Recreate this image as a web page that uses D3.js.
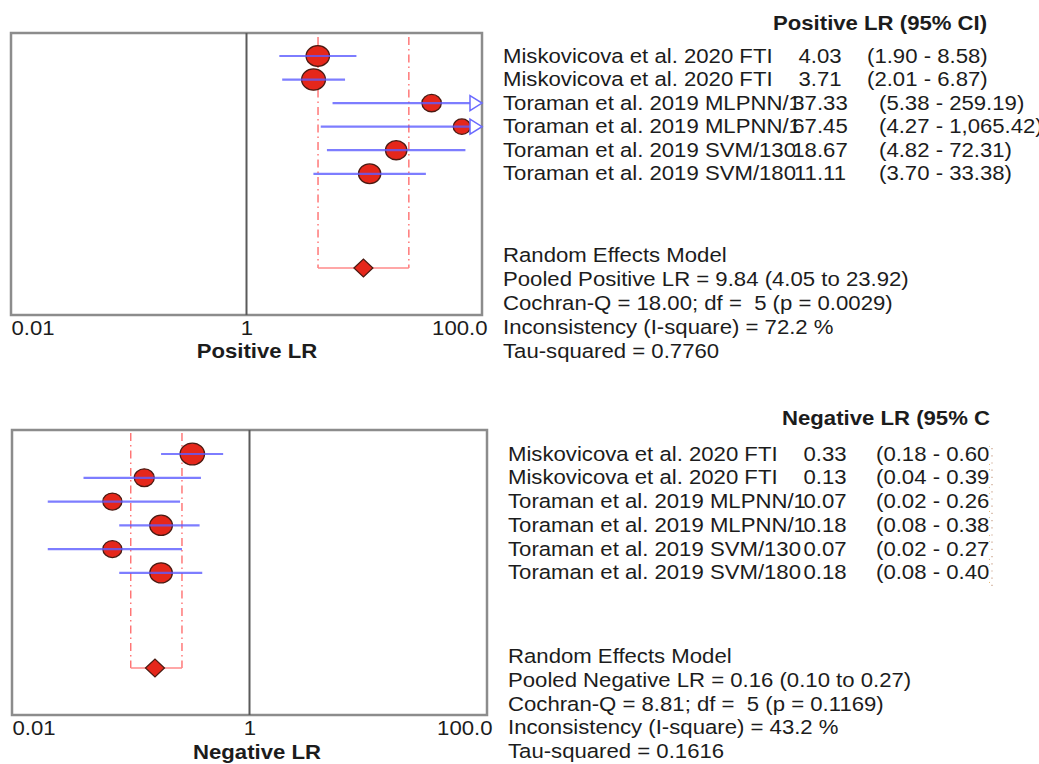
<!DOCTYPE html>
<html>
<head>
<meta charset="utf-8">
<script src="https://cdn.jsdelivr.net/npm/d3@7"></script>
<style>
  body { margin: 0; background: #fff; }
  svg { display: block; }
  text { font-family: "Liberation Sans", Arial, sans-serif; fill: #1c1c1c; white-space: pre; }
</style>
</head>
<body>
<svg id="chart" width="1039" height="764"></svg>
<script>
// study labels (same for both panels)
const studies = [
  "Miskovicova et al. 2020 FTI",
  "Miskovicova et al. 2020 FTI",
  "Toraman et al. 2019 MLPNN/130",
  "Toraman et al. 2019 MLPNN/180",
  "Toraman et al. 2019 SVM/130",
  "Toraman et al. 2019 SVM/180"
];

// positive likelihood ratio
const posLR = [4.03, 3.71, 37.33, 67.45, 18.67, 11.11];
const posLo = [1.90, 2.01, 5.38, 4.27, 4.82, 3.70];
const posHi = [8.58, 6.87, 259.19, 1065.42, 72.31, 33.38];
const posWeight = [22.2, 23.5, 11.7, 7.4, 16.4, 18.8];
const posPooled = [9.84, 4.05, 23.92];
const posStats = { q: "18.00", df: 5, p: "0.0029", i2: "72.2", tau2: "0.7760" };

// negative likelihood ratio
const negLR = [0.33, 0.13, 0.07, 0.18, 0.07, 0.18];
const negLo = [0.18, 0.04, 0.02, 0.08, 0.02, 0.08];
const negHi = [0.60, 0.39, 0.26, 0.38, 0.27, 0.40];
const negWeight = [25.3, 13.0, 11.0, 20.3, 10.8, 19.6];
const negPooled = [0.16, 0.10, 0.27];
const negStats = { q: "8.81", df: 5, p: "0.1169", i2: "43.2", tau2: "0.1616" };

// x axis
const tickValues = [0.01, 1, 100];
const tickLabels = ["0.01", "1", "100.0"];

const SX = 1.125;   // the picture is a bit wider than tall
const FS = 19.7;

const svg = d3.select("#chart");
const fmt2 = d3.format(".2f");
const fmtCI = d3.format(",.2f");
const rScale = d3.scaleSqrt().domain([0, 25]).range([4, 10.8]);

let clipId = 0;

function label(g, x, y, str, anchor, bold) {
  return g.append("text")
    .attr("transform", "translate(" + x + "," + y + ") scale(" + SX + ",1)")
    .attr("text-anchor", anchor || "start")
    .style("font-size", FS + "px")
    .style("font-weight", bold ? "bold" : "normal")
    .text(str);
}

function clip(x0, x1, y0, y1) {
  const id = "clip" + (clipId++);
  svg.append("clipPath").attr("id", id)
    .append("rect").attr("x", x0).attr("y", y0).attr("width", x1 - x0).attr("height", y1 - y0);
  return "url(#" + id + ")";
}

function drawPanel(c, est, lo, hi, weight, pooled, stats, axisTitle, header, pooledName) {
  const g = svg.append("g");

  const x = d3.scaleLog().domain([0.01, 100]).range([c.x0, c.x1]);
  const y = d3.scaleLinear().domain([0, 9]).range([c.rowTop, c.rowPooled]);
  const rows = d3.range(est.length);

  // frame
  g.append("rect")
    .attr("x", c.x0).attr("y", c.y0)
    .attr("width", c.x1 - c.x0).attr("height", c.y1 - c.y0)
    .attr("fill", "none").attr("stroke", "#8c8c8c").attr("stroke-width", 2.5);

  g.append("line")
    .attr("x1", x(1)).attr("x2", x(1)).attr("y1", c.y0).attr("y2", c.y1)
    .attr("stroke", "#5a5a5a").attr("stroke-width", 2);

  // pooled estimate interval
  g.selectAll(".pooled-v")
    .data([pooled[1], pooled[2]])
    .enter().append("line")
    .attr("x1", d => x(d)).attr("x2", d => x(d))
    .attr("y1", c.dashTop).attr("y2", y(9))
    .attr("stroke", "#ff6f6f").attr("stroke-width", 1.4)
    .attr("stroke-dasharray", "8,4,1.5,4");

  g.append("line")
    .attr("x1", x(pooled[1])).attr("x2", x(pooled[2]))
    .attr("y1", y(9)).attr("y2", y(9))
    .attr("stroke", "#ff8a8a").attr("stroke-width", 1.5);

  // study points
  g.selectAll(".pt")
    .data(rows)
    .enter().append("ellipse")
    .attr("cx", i => x(est[i]))
    .attr("cy", i => y(i))
    .attr("rx", i => rScale(weight[i]) * SX)
    .attr("ry", i => rScale(weight[i]))
    .attr("fill", "#e5271b").attr("stroke", "#4a1a12").attr("stroke-width", 1.3);

  // confidence intervals
  const arrowW = 12;
  g.selectAll(".ci")
    .data(rows)
    .enter().append("line")
    .attr("x1", i => x(Math.max(lo[i], 0.01)))
    .attr("x2", i => hi[i] > 100 ? c.x1 - arrowW : x(hi[i]))
    .attr("y1", i => y(i)).attr("y2", i => y(i))
    .attr("stroke", "#5c5cff").attr("stroke-opacity", 0.8).attr("stroke-width", 2.2);

  g.selectAll(".arrow")
    .data(rows.filter(i => hi[i] > 100))
    .enter().append("path")
    .attr("d", i => {
      const yy = y(i);
      return "M" + (c.x1 - arrowW) + "," + (yy - 7.5) + "L" + c.x1 + "," + yy +
        "L" + (c.x1 - arrowW) + "," + (yy + 7.5) + "Z";
    })
    .attr("fill", "#fff").attr("stroke", "#6a6aff").attr("stroke-width", 1.5);

  // pooled diamond
  const px = x(pooled[0]), py = y(9), dw = 9.5, dh = 9;
  g.append("path")
    .attr("d", "M" + (px - dw) + "," + py + "L" + px + "," + (py - dh) +
      "L" + (px + dw) + "," + py + "L" + px + "," + (py + dh) + "Z")
    .attr("fill", "#e5271b").attr("stroke", "#4a1a12").attr("stroke-width", 1.2);

  // x axis
  const axis = g.append("g")
    .attr("transform", "translate(0," + c.y1 + ")")
    .call(d3.axisBottom(x).tickValues(tickValues)
      .tickFormat((d, i) => tickLabels[i]).tickSize(0));
  axis.select(".domain").remove();
  axis.selectAll("text")
    .attr("y", c.tickY - c.y1).attr("dy", 0)
    .attr("transform", "scale(" + SX + ",1)")
    .attr("text-anchor", (d, i) => ["start", "middle", "end"][i])
    .attr("x", (d, i) => i === 2 ? 5 / SX : 0)
    .style("font-size", FS + "px")
    .style("font-family", "Liberation Sans, Arial, sans-serif")
    .attr("fill", "#222");

  label(g, c.titleX, c.titleY, axisTitle, "middle", true);

  // right hand table
  const rightClip = clip(0, c.tableClip, c.y0 - 40, c.y1 + 60);
  const table = g.append("g").attr("clip-path", rightClip);
  label(table, c.headerX, c.headerY, header, "start", true);

  const names = table.append("g").attr("clip-path", clip(0, c.nameClip, c.y0 - 40, c.y1));
  rows.forEach(i => {
    const by = y(i) + 6.5;
    label(names, c.nameX, by, studies[i]);
    label(table, c.valX, by, fmt2(est[i]), "middle");
    const shift = hi[i] >= 10 ? c.ciShift : 0;
    label(table, c.ciX + shift, by, "(" + fmt2(lo[i]) + " - " + fmtCI(hi[i]) + ")");
  });

  const statLines = [
    "Random Effects Model",
    "Pooled " + pooledName + " = " + fmt2(pooled[0]) + " (" + fmt2(pooled[1]) + " to " + fmt2(pooled[2]) + ")",
    "Cochran-Q = " + stats.q + "; df =  " + stats.df + " (p = " + stats.p + ")",
    "Inconsistency (I-square) = " + stats.i2 + " %",
    "Tau-squared = " + stats.tau2
  ];
  statLines.forEach((s, k) => label(g, c.nameX, c.statY + k * c.statStep, s));

  if (c.tableClip < 1039) {
    g.append("line")
      .attr("x1", c.tableClip + 2).attr("x2", c.tableClip + 2)
      .attr("y1", y(0) - 6).attr("y2", y(5) + 14)
      .attr("stroke", "#c9a088").attr("stroke-width", 1.2)
      .attr("stroke-dasharray", "1.2,6");
  }
}

drawPanel({
  x0: 11, x1: 482, y0: 33, y1: 315,
  rowTop: 56, rowPooled: 268, dashTop: 37,
  tickY: 335, titleX: 257, titleY: 358,
  headerX: 773, headerY: 30,
  nameX: 503, nameClip: 800, valX: 820, ciX: 867, ciShift: 12, tableClip: 1039,
  statY: 262, statStep: 24
}, posLR, posLo, posHi, posWeight, posPooled, posStats,
  "Positive LR", "Positive LR (95% CI)", "Positive LR");

drawPanel({
  x0: 12, x1: 487, y0: 430, y1: 715,
  rowTop: 454, rowPooled: 668, dashTop: 433,
  tickY: 735, titleX: 257, titleY: 759,
  headerX: 782, headerY: 425,
  nameX: 508, nameClip: 806, valX: 825, ciX: 876, ciShift: 12, tableClip: 990,
  statY: 663, statStep: 23.75
}, negLR, negLo, negHi, negWeight, negPooled, negStats,
  "Negative LR", "Negative LR (95% CI)", "Negative LR");
</script>
</body>
</html>
